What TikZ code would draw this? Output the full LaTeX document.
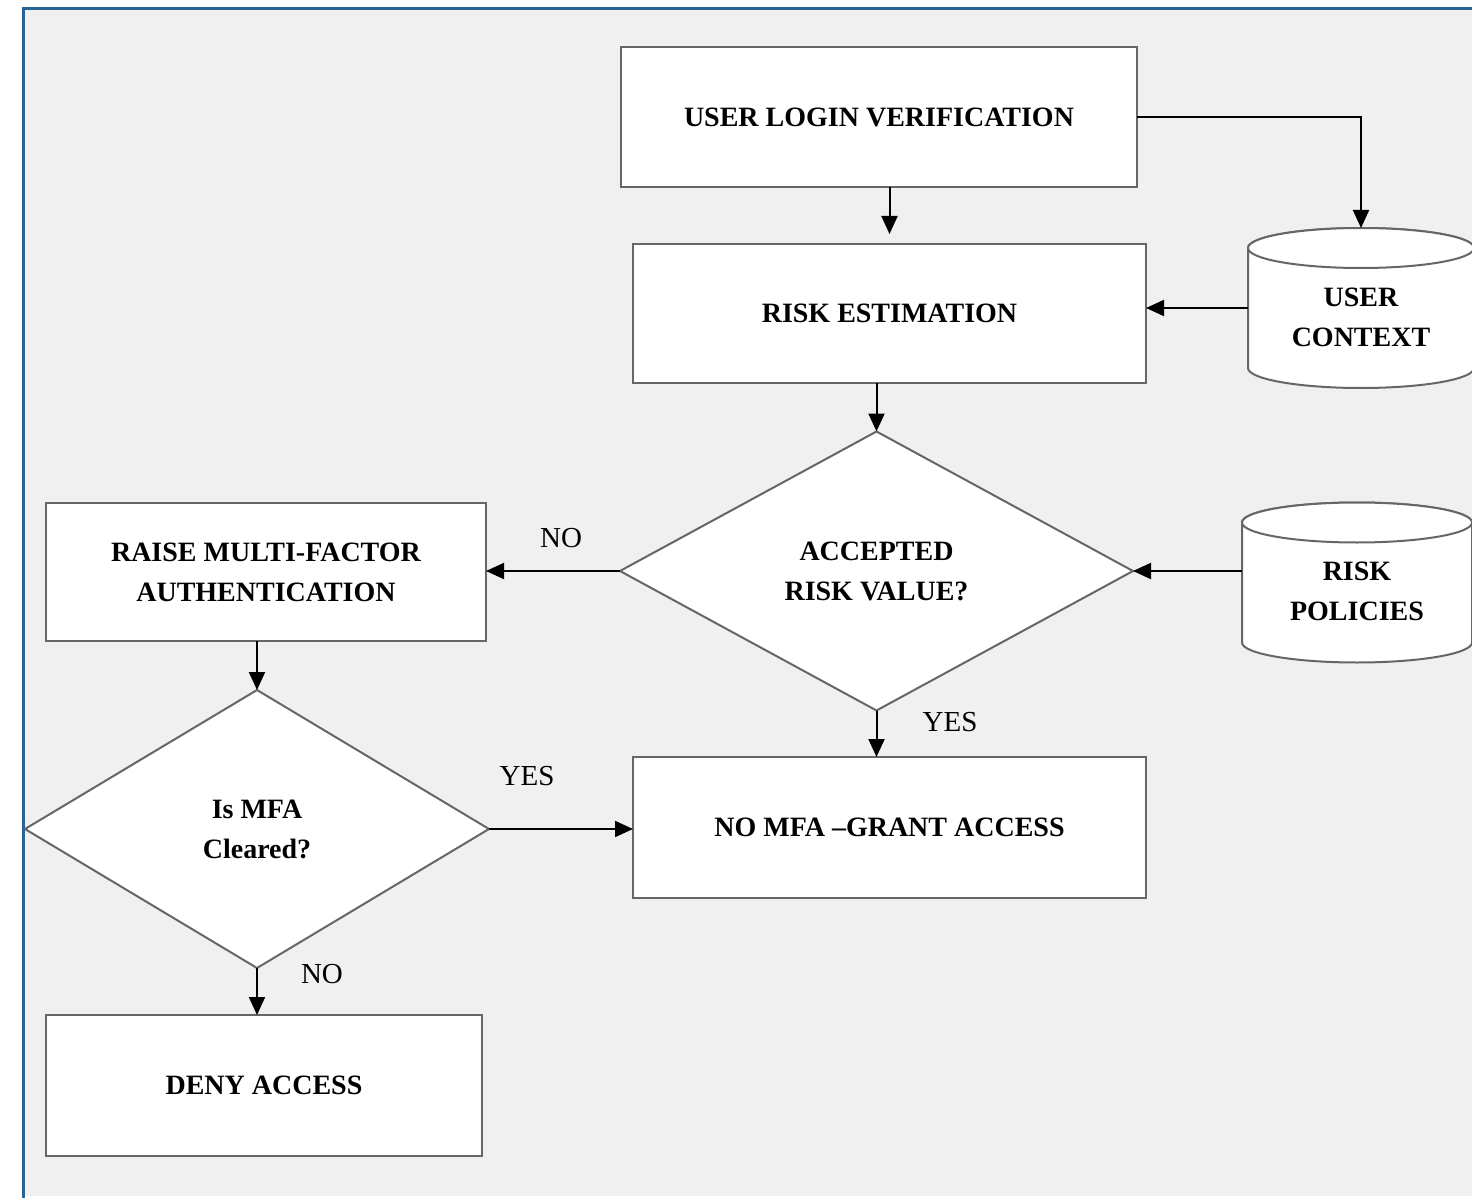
\documentclass[tikz,border=0pt]{standalone}
\usepackage{fontspec}
\setmainfont{Liberation Serif}
\usetikzlibrary{shapes.geometric,arrows.meta}
\definecolor{bgc}{HTML}{F0F0F0}
\definecolor{framec}{HTML}{2A6496}
\definecolor{edgec}{HTML}{666666}
\begin{document}
\begin{tikzpicture}[x=0.5pt,y=-0.5pt,
  boxnode/.style={draw=edgec,line width=1pt,fill=white,minimum width=#1,minimum height=70pt,
    inner sep=0pt,outer sep=0pt,align=center,font=\fontsize{14}{20}\selectfont\bfseries},
  dianode/.style 2 args={diamond,draw=edgec,line width=1pt,fill=white,minimum width=#1,minimum height=#2,
    inner sep=0pt,outer sep=0pt,align=center,font=\fontsize{14}{20}\selectfont\bfseries},
  cylbody/.style={inner sep=0pt,outer sep=0pt,minimum width=#1,minimum height=60pt},
  cyltext/.style={align=center,font=\fontsize{14}{20}\selectfont\bfseries},
  cylline/.style={draw=edgec,line width=1pt,fill=white},
  lbl/.style={font=\fontsize{14.5}{17}\selectfont},
  arr/.style={draw=black,line width=1pt,-{Triangle[length=9pt,width=8pt]}}
]
% background and frame
\useasboundingbox (0,0) rectangle (1472,1198);
\fill[white] (0,0) rectangle (1472,1198);
\fill[bgc] (23,9) rectangle (1480,1196);
\draw[framec,line width=1.5pt] (23,1198) -- (23,9) -- (1480,9);

% boxes
\node[boxnode=258pt] (ulv) at (879,117) {USER LOGIN VERIFICATION};
\node[boxnode=256.5pt,minimum height=69.5pt] (re) at (889.5,313.5) {RISK ESTIMATION};
\node[boxnode=220pt,minimum height=69pt] (rmfa) at (266,572) {RAISE MULTI-FACTOR\\AUTHENTICATION};
\node[boxnode=256.5pt,minimum height=70.5pt] (nmfa) at (889.5,827.5) {NO MFA \textendash GRANT ACCESS};
\node[boxnode=218pt,minimum height=70.5pt] (deny) at (264,1085.5) {DENY ACCESS};

% diamonds
\node[dianode={256.5pt}{139.5pt}] (d1) at (876.5,571) {ACCEPTED\\RISK VALUE?};
\node[dianode={232pt}{139pt}] (d2) at (257,829) {Is MFA\\Cleared?};

% cylinders
\node[cylbody=113pt] (uc) at (1361,308) {};
\draw[cylline] (uc.south west) arc[start angle=180,end angle=360,x radius=56.5pt,y radius=10pt]
  -- (uc.north east) arc[start angle=0,end angle=180,x radius=56.5pt,y radius=10pt] -- cycle;
\draw[cylline] (uc.north) ellipse[x radius=56.5pt,y radius=10pt];
\coordinate (uctop) at ([yshift=10pt]uc.north);
\node[cyltext] (uct) at (1361,317) {USER\\CONTEXT};

\node[cylbody=115pt] (rp) at (1357,582.5) {};
\draw[cylline] (rp.south west) arc[start angle=180,end angle=360,x radius=57.5pt,y radius=10pt]
  -- (rp.north east) arc[start angle=0,end angle=180,x radius=57.5pt,y radius=10pt] -- cycle;
\draw[cylline] (rp.north) ellipse[x radius=57.5pt,y radius=10pt];
\node[cyltext] (rpt) at (1357,591.5) {RISK\\POLICIES};

% connectors
\draw[arr,shorten >=5pt] (ulv.south -| re.north) -- (re.north);
\draw[arr] (ulv.east) -| (uctop);
\draw[arr] (uc.west) -- (uc.west -| re.east);
\draw[arr] (re.south -| d1.north) -- (d1.north);
\draw[arr] (d1.west) -- (d1.west -| rmfa.east);
\draw[arr] (rp.west |- d1.east) -- (d1.east);
\draw[arr] (d1.south) -- (d1.south |- nmfa.north);
\draw[arr] (rmfa.south -| d2.north) -- (d2.north);
\draw[arr] (d2.east) -- (d2.east -| nmfa.west);
\draw[arr] (d2.south) -- (d2.south |- deny.north);

% labels
\node[lbl] (lno1) at (561,538) {NO};
\node[lbl] (lyes1) at (950,722) {YES};
\node[lbl] (lyes2) at (527,776) {YES};
\node[lbl] (lno2) at (322,974) {NO};
\end{tikzpicture}
\end{document}
